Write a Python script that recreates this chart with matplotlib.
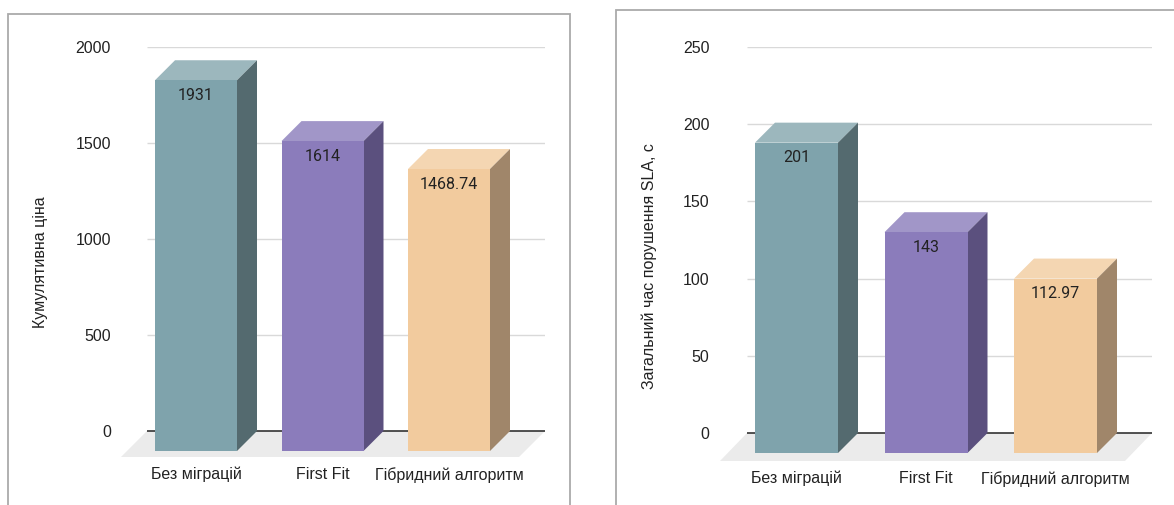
import matplotlib
matplotlib.use("Agg")
import matplotlib.pyplot as plt
from matplotlib.patches import Polygon, Rectangle

# ---------------- data ----------------
categories = ["Без міграцій", "First Fit", "Гібридний алгоритм"]
cost_values = [1931, 1614, 1468.74]
cost_labels = ["1931", "1614", "1468.74"]
cost_ticks = [0, 500, 1000, 1500, 2000]
cost_ylabel = "Кумулятивна ціна"

sla_values = [201, 143, 112.97]
sla_labels = ["201", "143", "112.97"]
sla_ticks = [0, 50, 100, 150, 200, 250]
sla_ylabel = "Загальний час порушення SLA, с"

# ---------------- style ----------------
front_colors = ["#7FA3AC", "#8B7CBB", "#F2CB9E"]
side_colors = ["#546A6F", "#5B507E", "#A0866A"]
top_colors = ["#9CB7BD", "#A196C8", "#F4D6B2"]
FLOOR = "#EBEBEB"
GRID = "#D9D9D9"
ZERO = "#333333"
TEXT = "#222222"
FONT = ["Liberation Sans", "DejaVu Sans"]

W, H = 1174, 505
fig = plt.figure(figsize=(W / 100, H / 100), dpi=100)
fig.patch.set_facecolor("white")


def draw_panel(values, labels, ticks, ylabel, g):
    ppu = (g["zero"] - g["top"]) / ticks[-1]          # pixels per data unit
    ax = fig.add_axes([g["left"] / W, 1 - g["bottom"] / H,
                       (g["right"] - g["left"]) / W, (g["bottom"] - g["top"]) / H])
    ax.set_ylim(-(g["bottom"] - g["zero"]) / ppu, ticks[-1])
    ax.set_xlim((g["left"] - g["c0"]) / g["step"], (g["right"] - g["c0"]) / g["step"])
    ax.set_facecolor("none")
    for s in ax.spines.values():
        s.set_visible(False)
    x0, x1 = ax.get_xlim()

    dx = g["depth"] / g["step"]
    dy = g["depth"] / ppu
    w = g["bar_w"] / g["step"]
    fdx = g["floor_shift"] / g["step"]
    fdy = g["floor_drop"] / ppu

    # grid
    ax.hlines(ticks[1:], x0, x1, color=GRID, lw=1.0, zorder=0)
    # floor
    ax.add_patch(Polygon([(x0, 0), (x1, 0), (x1 - fdx, -fdy), (x0 - fdx, -fdy)],
                         closed=True, facecolor=FLOOR, edgecolor="none",
                         zorder=0.5, clip_on=False))
    ax.hlines(0, x0, x1, color=ZERO, lw=1.2, zorder=1)

    xs = list(range(len(values)))
    for i, v in zip(xs, values):
        # top face
        ax.add_patch(Polygon([(i - w / 2 - dx, v - dy), (i + w / 2 - dx, v - dy),
                              (i + w / 2, v), (i - w / 2, v)],
                             closed=True, facecolor=top_colors[i], edgecolor="none",
                             zorder=2, clip_on=False))
        # side face
        ax.add_patch(Polygon([(i + w / 2 - dx, -dy), (i + w / 2, 0),
                              (i + w / 2, v), (i + w / 2 - dx, v - dy)],
                             closed=True, facecolor=side_colors[i], edgecolor="none",
                             zorder=2, clip_on=False))
    # front faces
    ax.bar([i - dx for i in xs], values, width=w, bottom=-dy,
           color=front_colors, edgecolor="none", zorder=3, clip_on=False)
    for i, (v, lab) in enumerate(zip(values, labels)):
        ax.annotate(lab, (i - dx, v - dy), xytext=(0, -11), textcoords="offset points",
                    ha="center", va="center", fontsize=11.5, color=TEXT,
                    family=["Roboto", "DejaVu Sans"], zorder=4)

    ax.set_yticks(ticks)
    ax.set_yticklabels([str(t) for t in ticks], family=FONT, color=TEXT)
    ax.tick_params(axis="y", length=0, pad=g["ypad"], labelsize=11.5)
    ax.set_xticks([i - dx for i in xs])
    ax.set_xticklabels(categories, family=FONT, color=TEXT)
    ax.tick_params(axis="x", length=0, pad=g["xpad"], labelsize=11.5)

    fig.text(g["ylab_x"] / W, 1 - g["ylab_y"] / H, ylabel, rotation=90,
             ha="center", va="center", fontsize=11.5, color=TEXT, family=FONT)

    # panel frame
    fx0, fy0, fx1, fy1 = g["frame"]
    fig.add_artist(Rectangle((fx0 / W, 1 - fy1 / H), (fx1 - fx0) / W, (fy1 - fy0) / H,
                             transform=fig.transFigure, facecolor="none",
                             edgecolor="#AAAAAA", lw=1.3))
    return ax


left_geom = dict(left=147, right=545, top=47, zero=431, bottom=457,
                 c0=216, step=126.5, bar_w=82, depth=20,
                 floor_shift=26, floor_drop=26, ypad=26, xpad=7,
                 ylab_x=41, ylab_y=262, frame=(8, 14, 570, 530))
right_geom = dict(left=747, right=1152, top=47, zero=433, bottom=461,
                  c0=816.5, step=129.5, bar_w=83, depth=20,
                  floor_shift=27, floor_drop=28, ypad=27, xpad=7,
                  ylab_x=649, ylab_y=266, frame=(616, 10, 1200, 530))

draw_panel(cost_values, cost_labels, cost_ticks, cost_ylabel, left_geom)
draw_panel(sla_values, sla_labels, sla_ticks, sla_ylabel, right_geom)

fig.savefig("out.png", dpi=100, facecolor="white")
